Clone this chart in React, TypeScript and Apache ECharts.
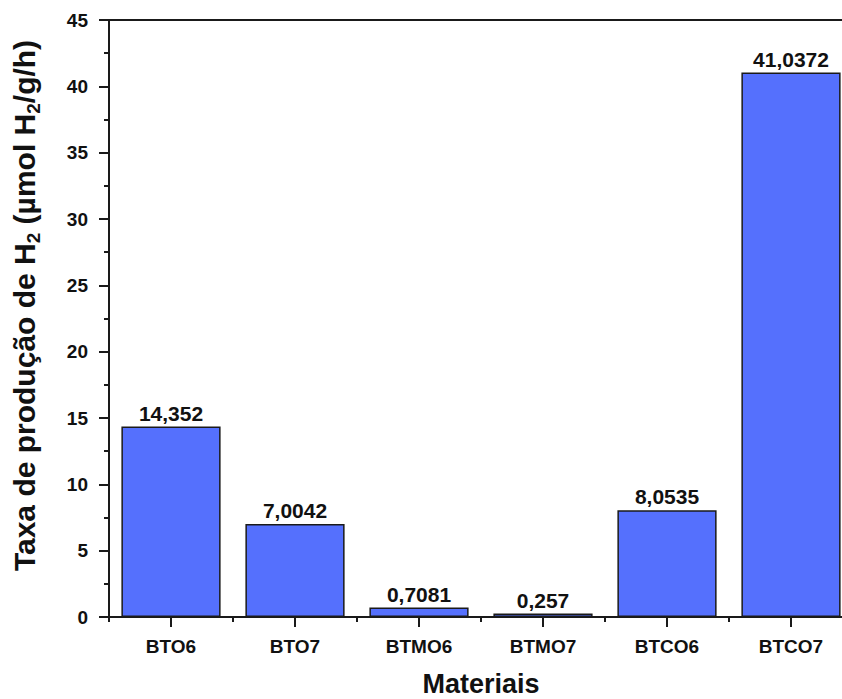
import React, { useEffect, useRef } from "react";
import * as echarts from "echarts";

const categories = ["BTO6", "BTO7", "BTMO6", "BTMO7", "BTCO6", "BTCO7"];
const values = [14.352, 7.0042, 0.7081, 0.257, 8.0535, 41.0372];
const yTicks = { min: 0, max: 45, interval: 5 };

const FONT = "'Liberation Sans', Arial, sans-serif";
const AXIS_COLOR = "#1a1a1a";

export default function App() {
  const ref = useRef<HTMLDivElement>(null);
  useEffect(() => {
    if (!ref.current) return;
    const chart = echarts.init(ref.current, null, { renderer: "svg" });
    chart.setOption({
      animation: false,
      backgroundColor: "#ffffff",
      grid: { left: 109, top: 20, right: -11, bottom: 82, containLabel: false, outerBoundsMode: "none" },
      xAxis: [
        {
          type: "category",
          data: categories,
          position: "bottom",
          name: "Materiais",
          nameLocation: "middle",
          nameGap: 53,
          nameTextStyle: { fontFamily: FONT, fontWeight: "bold", fontSize: 27, lineHeight: 28, color: "#111" },
          axisLine: { show: true, lineStyle: { color: AXIS_COLOR, width: 2 } },
          axisTick: { show: true, alignWithLabel: true, length: 10, lineStyle: { color: AXIS_COLOR, width: 2 } },
          axisLabel: { margin: 20, fontFamily: FONT, fontWeight: "bold", fontSize: 19, color: "#111" },
          splitLine: { show: false },
        },
        {
          type: "category",
          data: categories,
          position: "bottom",
          axisLine: { show: false },
          axisTick: { show: true, alignWithLabel: false, length: 5, lineStyle: { color: AXIS_COLOR, width: 2 } },
          axisLabel: { show: false },
          splitLine: { show: false },
        },
        {
          type: "category",
          data: categories,
          position: "top",
          axisLine: { show: true, lineStyle: { color: AXIS_COLOR, width: 2 } },
          axisTick: { show: false },
          axisLabel: { show: false },
          splitLine: { show: false },
        },
      ],
      yAxis: {
        type: "value",
        min: yTicks.min,
        max: yTicks.max,
        interval: yTicks.interval,
        name: "{m|Taxa de produção de H}{s|2}{m| (µmol H}{s|2}{m|/g/h)}",
        nameLocation: "middle",
        nameGap: 66,
        nameRotate: 90,
        nameTextStyle: {
          padding: [0, 0, 0, 26],
          rich: {
            m: { fontFamily: FONT, fontWeight: "bold", fontSize: 30, color: "#111", lineHeight: 37, verticalAlign: "middle" },
            s: { fontFamily: FONT, fontWeight: "bold", fontSize: 19, color: "#111", lineHeight: 19, verticalAlign: "bottom" },
          },
        },
        axisLine: { show: true, lineStyle: { color: AXIS_COLOR, width: 2 } },
        axisTick: { show: true, length: 10, lineStyle: { color: AXIS_COLOR, width: 2 } },
        minorTick: { show: true, splitNumber: 2, length: 5, lineStyle: { color: AXIS_COLOR, width: 2 } },
        axisLabel: { margin: 21, fontFamily: FONT, fontWeight: "bold", fontSize: 19, color: "#111" },
        splitLine: { show: false },
      },
      series: [
        {
          type: "bar",
          xAxisIndex: 0,
          data: values,
          barWidth: "80%",
          itemStyle: { color: "#5570fd", borderColor: "#1a1a1a", borderWidth: 1.5 },
          label: {
            show: true,
            position: "top",
            distance: 3,
            fontFamily: FONT,
            fontWeight: "bold",
            fontSize: 21,
            color: "#111",
            formatter: (p: any) => String(p.value).replace(".", ","),
          },
        },
      ],
    });
    return () => chart.dispose();
  }, []);
  return (
    <div style={{ position: "absolute", left: 0, top: 0, width: 842, height: 699, overflow: "hidden" }}>
      <div ref={ref} style={{ width: 842, height: 699 }} />
    </div>
  );
}
